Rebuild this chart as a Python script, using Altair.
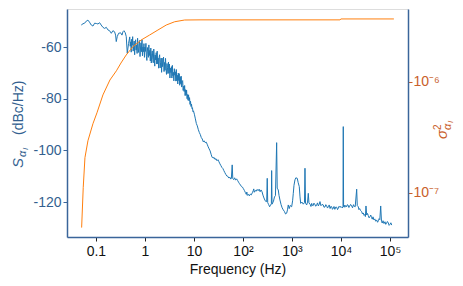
import altair as alt
import pandas as pd

# ---- data ----
low_freq = [0.0502, 0.0545, 0.0587, 0.0635, 0.0687, 0.0740, 0.0803, 0.0870, 0.0940, 0.102,
            0.110, 0.119, 0.128, 0.139, 0.150, 0.163, 0.176, 0.190, 0.206, 0.222,
            0.240, 0.252, 0.260, 0.272, 0.290, 0.319, 0.340, 0.356, 0.373, 0.397,
            0.416, 0.436, 0.464]
low_db = [-51.5, -51.0, -50.8, -50.0, -49.6, -50.4, -51.5, -51.9, -50.8, -50.9,
          -51.1, -50.6, -51.5, -52.4, -52.8, -52.4, -53.4, -53.7, -54.7, -53.7,
          -54.1, -55.4, -57.9, -56.0, -54.7, -54.5, -55.4, -54.1, -53.7, -54.5,
          -56.0, -62.4, -58.6]

band_freq = [0.490, 0.501, 0.513, 0.525, 0.537, 0.550, 0.562, 0.575, 0.589, 0.603,
             0.617, 0.631, 0.646, 0.661, 0.676, 0.692, 0.708, 0.724, 0.741, 0.759,
             0.776, 0.794, 0.813, 0.832, 0.851, 0.871, 0.891, 0.912, 0.933, 0.955,
             0.977, 1.000, 1.023, 1.047, 1.072, 1.096, 1.122, 1.148, 1.175, 1.202,
             1.230, 1.259, 1.288, 1.318, 1.349, 1.380, 1.413, 1.445, 1.479, 1.514,
             1.549, 1.585, 1.622, 1.660, 1.698, 1.738, 1.778, 1.820, 1.862, 1.905,
             1.950, 1.995, 2.042, 2.089, 2.138, 2.188, 2.239, 2.291, 2.344, 2.399,
             2.455, 2.512, 2.570, 2.630, 2.692, 2.754, 2.818, 2.884, 2.951, 3.020,
             3.090, 3.162, 3.236, 3.311, 3.388, 3.467, 3.548, 3.631, 3.715, 3.802,
             3.890, 3.981, 4.074, 4.169, 4.266, 4.365, 4.467, 4.571, 4.677, 4.786,
             4.898, 5.012, 5.129, 5.248, 5.370, 5.495, 5.623, 5.754, 5.888, 6.026,
             6.166, 6.310, 6.457, 6.607, 6.761, 6.918, 7.079, 7.244, 7.413, 7.586,
             7.762, 7.943, 8.128, 8.318, 8.511, 8.710, 8.913, 9.120, 9.333, 9.550,
             9.772]
band_db = [-56.1, -59.7, -58.0, -62.0, -57.0, -59.3, -56.0, -61.6, -59.9, -57.7,
           -63.0, -58.4, -57.2, -61.2, -59.3, -62.5, -56.6, -60.4, -62.1, -58.7,
           -57.5, -63.7, -60.4, -58.4, -61.8, -57.2, -63.4, -60.0, -61.8, -58.7,
           -64.0, -60.0, -61.7, -58.6, -63.8, -65.2, -60.2, -61.7, -64.0, -59.2,
           -63.3, -61.3, -65.4, -60.4, -66.2, -62.6, -61.5, -64.7, -66.1, -60.8,
           -63.5, -67.4, -63.1, -65.0, -62.2, -66.6, -61.6, -66.5, -64.3, -68.2,
           -64.0, -63.0, -68.1, -66.1, -64.3, -69.8, -64.3, -67.6, -66.0, -63.9,
           -69.5, -66.0, -69.0, -64.4, -68.3, -70.6, -66.4, -68.0, -70.3, -65.8,
           -70.1, -66.6, -72.0, -68.2, -69.9, -67.6, -72.0, -67.1, -71.1, -69.8,
           -73.1, -68.4, -70.9, -69.6, -73.2, -68.7, -73.1, -70.9, -74.3, -70.1,
           -73.0, -70.3, -74.8, -71.5, -74.2, -71.3, -75.5, -73.4, -73.0, -76.8,
           -75.2, -77.2, -74.9, -78.8, -76.5, -78.7, -76.7, -80.0, -78.4, -80.6,
           -78.5, -80.8, -79.6, -82.2, -81.0, -83.0, -82.1, -83.8, -83.5, -85.0,
           -84.7]

high_freq = [10.2, 10.7, 11.2, 11.7, 12.3, 12.9, 13.5, 14.1, 14.8, 15.5,
             16.2, 17.0, 17.8, 18.6, 19.5, 20.4, 21.4, 22.4, 23.4, 24.5,
             25.7, 26.9, 28.2, 29.5, 30.9, 32.4, 33.9, 35.5, 37.2, 38.9,
             40.7, 42.7, 44.7, 46.8, 49.0, 51.3, 53.7, 56.2, 58.0, 60.3,
             62.0, 64.6, 67.6, 70.8, 74.1, 77.6, 81.3, 85.1, 89.1, 93.3,
             97.7, 102, 107, 112, 117, 120, 123, 129, 135, 141,
             148, 155, 162, 166, 170, 178, 186, 195, 204, 214,
             224, 234, 245, 256, 268, 280, 293, 305, 313, 320,
             335, 350, 365, 380, 385, 392, 405, 420, 440, 460,
             487, 500, 525, 545, 569, 600, 630, 664, 700, 740,
             779, 810, 840, 880, 920, 985, 1030, 1064, 1100, 1151,
             1200, 1283, 1340, 1409, 1460, 1506, 1600, 1700, 1800, 1842,
             1890, 1995, 2080, 2153, 2220, 2350, 2440, 2524, 2610, 2700,
             2800, 2900, 3050, 3193, 3320, 3450, 3600, 3725, 3900, 4100,
             4355, 4500, 4700, 4900, 5100, 5300, 5510, 5750, 6000, 6250,
             6500, 6700, 6966, 7200, 7500, 7850, 8200, 8500, 8810, 9150,
             9500, 10000, 10500, 11000, 11140, 11300, 11700, 12000, 12500, 13060,
             13500, 14000, 14500, 15000, 15700, 16520, 17200, 18000, 18800, 19500,
             20900, 21500, 22540, 23200, 24000, 25200, 26440, 27500, 28500, 29500,
             30500, 31500, 32360, 33500, 34800, 36000, 37500, 39070, 40500, 42000,
             43500, 45000, 47000, 49000, 51000, 53550, 55800, 58000, 60000, 62000,
             64600, 67000, 69500, 72000, 75500, 79070, 82000, 85000, 88500, 92000,
             96000, 100000, 104000, 108400]
high_db = [-86.0, -87.8, -89.6, -90.5, -92.0, -93.1, -93.9, -95.0, -95.6, -96.7,
           -96.3, -97.0, -96.8, -97.6, -98.6, -99.4, -100.2, -101.5, -102.6, -103.0,
           -102.7, -103.5, -103.2, -104.0, -103.6, -104.4, -105.2, -105.9, -106.6, -107.0,
           -107.8, -108.6, -109.3, -109.9, -110.0, -110.7, -110.3, -111.1, -110.8, -105.6,
           -110.9, -111.3, -110.6, -111.5, -111.0, -111.6, -112.3, -112.9, -113.4, -114.0,
           -114.2, -114.8, -115.5, -116.3, -117.0, -116.1, -117.4, -117.0, -117.6, -116.9,
           -117.2, -116.4, -115.6, -114.9, -116.2, -115.5, -115.8, -115.1, -115.6, -115.0,
           -116.0, -115.3, -116.0, -117.3, -118.4, -119.2, -119.8, -119.8, -110.8, -120.2,
           -121.0, -121.8, -121.2, -120.6, -107.8, -120.8, -120.3, -119.6, -118.0, -117.5,
           -97.0, -114.6, -115.3, -117.5, -119.2, -121.0, -122.2, -123.0, -123.6, -124.6,
           -124.3, -123.0, -121.1, -122.5, -121.3, -121.8, -119.5, -116.6, -113.5, -111.4,
           -110.6, -110.8, -112.5, -114.0, -118.0, -120.5, -120.0, -120.8, -120.2, -106.9,
           -120.4, -121.1, -120.0, -116.6, -120.3, -120.9, -121.7, -120.5, -121.3, -121.4,
           -120.4, -120.7, -121.6, -121.1, -120.3, -121.5, -120.8, -119.8, -121.4, -120.9,
           -121.1, -122.0, -121.9, -121.0, -121.4, -122.3, -121.8, -121.1, -122.5, -121.6,
           -121.9, -122.8, -122.4, -121.7, -122.8, -121.9, -122.0, -122.9, -122.4, -121.6,
           -122.0, -121.7, -122.2, -122.0, -90.8, -121.8, -121.2, -122.0, -121.3, -121.8,
           -121.0, -121.2, -122.1, -121.6, -120.9, -121.5, -122.2, -121.0, -121.7, -121.8,
           -115.0, -121.4, -121.8, -122.9, -122.5, -123.3, -123.7, -124.6, -124.2, -125.1,
           -124.8, -125.6, -121.5, -125.0, -124.4, -125.2, -126.1, -125.6, -125.0, -126.0,
           -126.6, -125.7, -126.9, -126.5, -127.4, -126.9, -127.8, -127.2, -126.4, -126.8,
           -121.5, -127.5, -128.1, -127.2, -128.3, -127.6, -128.6, -128.2, -127.5, -128.0,
           -129.0, -128.6, -128.0, -128.9]

orange_freq = [0.0511, 0.0551, 0.0597, 0.0687, 0.0869, 0.105, 0.139, 0.193, 0.262, 0.324,
               0.415, 0.569, 0.840, 1.247, 1.84, 2.72, 4.04, 6.46, 13.3, 9550,
               10000, 120000]
orange_var = [4.84e-8, 1.11e-7, 2.07e-7, 2.94e-7, 4.19e-7, 5.26e-7, 7.63e-7, 1.04e-6, 1.26e-6, 1.48e-6,
              1.75e-6, 2.08e-6, 2.39e-6, 2.65e-6, 2.94e-6, 3.26e-6, 3.49e-6, 3.62e-6, 3.63e-6, 3.63e-6,
              3.70e-6, 3.70e-6]

x_ticks = [0.1, 1, 10, 100, 1000, 10000, 100000]
left_ticks = [-60, -80, -100, -120]
right_ticks = [1e-7, 1e-6]

BLUE_LINE = "#1f77b4"
ORANGE_LINE = "#ff7f0e"
FRAME = "#3a659a"
LEFT_TXT = "#335f8f"
RIGHT_TXT = "#c9602b"
FONT = "Liberation Sans"

blue_df = pd.DataFrame({"f": low_freq + band_freq + high_freq,
                        "s": low_db + band_db + high_db})
orange_df = pd.DataFrame({"f": orange_freq, "v": orange_var})

x_scale = alt.Scale(type="log", domain=[0.0257, 233000], nice=False)
x_axis = alt.Axis(
    values=x_ticks, title="Frequency (Hz)", grid=False,
    labelExpr="datum.value < 0.5 ? '0.1' : datum.value < 5 ? '1' : datum.value < 50 ? '10' : "
              "datum.value < 500 ? '10²' : datum.value < 5000 ? '10³' : datum.value < 50000 ? '10⁴' : '10⁵'",
    domainColor=FRAME, domainWidth=1.5, tickColor="#222222", tickSize=4,
    labelColor="#111111", titleColor="#111111", labelFontSize=14, titleFontSize=14,
    labelFont=FONT, titleFont=FONT, titleFontWeight="normal", labelPadding=3, titlePadding=4,
)

blue = alt.Chart(blue_df).mark_line(color=BLUE_LINE, strokeWidth=1, clip=True).encode(
    x=alt.X("f:Q", scale=x_scale, axis=x_axis),
    y=alt.Y("s:Q", scale=alt.Scale(domain=[-133.5, -45.3], nice=False, zero=False),
            axis=alt.Axis(values=left_ticks, title=None, grid=False, orient="left",
                          labelExpr="'-' + format(-datum.value, 'd')",
                          domainColor=FRAME, domainWidth=1.5, tickColor=FRAME, tickSize=4,
                          labelColor=LEFT_TXT, labelFontSize=14, labelFont=FONT, labelPadding=2)),
    order="f:Q",
)

orange = alt.Chart(orange_df).mark_line(color=ORANGE_LINE, strokeWidth=1, clip=True).encode(
    x=alt.X("f:Q", scale=x_scale),
    y=alt.Y("v:Q", scale=alt.Scale(type="log", domain=[3.98e-8, 4.55e-6], nice=False),
            axis=alt.Axis(values=right_ticks, title=None, grid=False, orient="right",
                          labelExpr="datum.value < 5e-7 ? '10⁻⁷' : '10⁻⁶'",
                          domainColor=FRAME, domainWidth=1.5, tickColor=RIGHT_TXT, tickSize=4,
                          labelColor=RIGHT_TXT, labelFontSize=14, labelFont=FONT, labelPadding=1)),
    order="f:Q",
)

one = pd.DataFrame({"k": [0]})

def txt(s, x, y, size, color, italic=False):
    return alt.Chart(one).mark_text(
        text=s, angle=270, align="left", baseline="alphabetic", fontSize=size,
        font=FONT, color=color, fontStyle="italic" if italic else "normal",
    ).encode(x=alt.value(x), y=alt.value(y))

# axis titles built from pieces (subscripts), positions relative to plot origin
left_title = [
    txt("S", -44, 159, 15, LEFT_TXT, italic=True),
    txt("α", -41, 148, 11, LEFT_TXT, italic=True),
    txt("I", -39, 141, 8, LEFT_TXT, italic=True),
    txt("(dBc/Hz)", -44, 126, 14, LEFT_TXT),
]
right_title = [
    txt("σ", 380, 130, 15, RIGHT_TXT, italic=True),
    txt("2", 374, 121, 10, RIGHT_TXT),
    txt("α", 384, 121, 11, RIGHT_TXT, italic=True),
    txt("I", 386, 114, 8, RIGHT_TXT, italic=True),
]

chart = alt.layer(blue, orange, *left_title, *right_title).resolve_scale(
    y="independent"
).properties(
    width=341, height=228,
    autosize=alt.AutoSizeParams(type="none"),
    padding={"left": 59, "top": 1, "right": 47, "bottom": 40},
).configure_view(
    stroke=FRAME, strokeWidth=1.5
).configure(background="white")

chart.save("out.html", embed_options={"renderer": "svg", "actions": False})
